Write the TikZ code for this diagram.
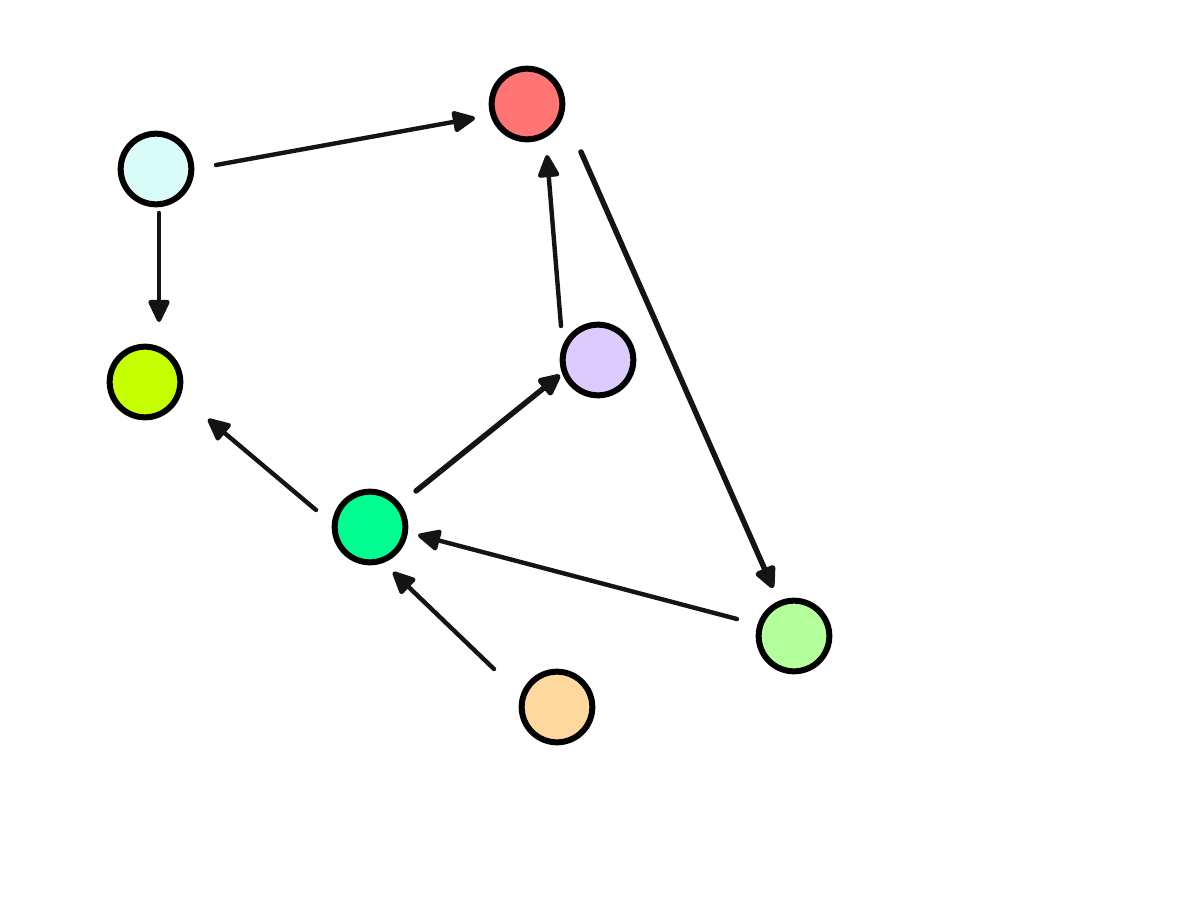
\documentclass[tikz,border=0pt]{standalone}
\usetikzlibrary{arrows.meta,calc}
\definecolor{cA}{HTML}{DAFCF9}
\definecolor{cB}{HTML}{FF7575}
\definecolor{cC}{HTML}{C6FF00}
\definecolor{cD}{HTML}{DCCBFF}
\definecolor{cE}{HTML}{00FF90}
\definecolor{cF}{HTML}{B3FF9C}
\definecolor{cG}{HTML}{FFD8A0}
\definecolor{ink}{HTML}{141414}
\begin{document}
\begin{tikzpicture}[x=0.75pt,y=-0.75pt,
  vert/.style={circle,draw=black,line width=4.5pt,minimum size=53pt,inner sep=0pt},
  arr/.style={draw=ink,line width=3.3pt,line cap=round,-{Triangle[length=19pt,width=17pt,round]}},
  arrb/.style={arr,line width=4.1pt}]
\useasboundingbox[fill=white] (0,0) rectangle (1200,900);
\node[vert,fill=cA] (A) at (156,169) {};
\node[vert,fill=cB] (B) at (527,104) {};
\node[vert,fill=cC] (C) at (145,382) {};
\node[vert,fill=cD] (D) at (598,360) {};
\node[vert,fill=cE] (E) at (370,527) {};
\node[vert,fill=cF] (F) at (794,636) {};
\node[vert,fill=cG] (G) at (557,707) {};
\draw[arr] ($(A)+(60,-4)$) -- ($(B)+(-52,14)$);
\draw[arr] ($(A)+(3,44)$) -- ($(C)+(14,-60)$);
\draw[arr] ($(D)+(-37,-34)$) -- ($(B)+(20,51)$);
\draw[arrb] ($(B)+(54,48)$) -- ($(F)+(-21,-48)$);
\draw[arrb] ($(E)+(46,-36)$) -- ($(D)+(-38,15)$);
\draw[arr] ($(E)+(-54,-17)$) -- ($(C)+(63,37)$);
\draw[arr] ($(F)+(-57,-17)$) -- ($(E)+(48,8)$);
\draw[arr] ($(G)+(-63,-38)$) -- ($(E)+(23,45)$);
\end{tikzpicture}
\end{document}
